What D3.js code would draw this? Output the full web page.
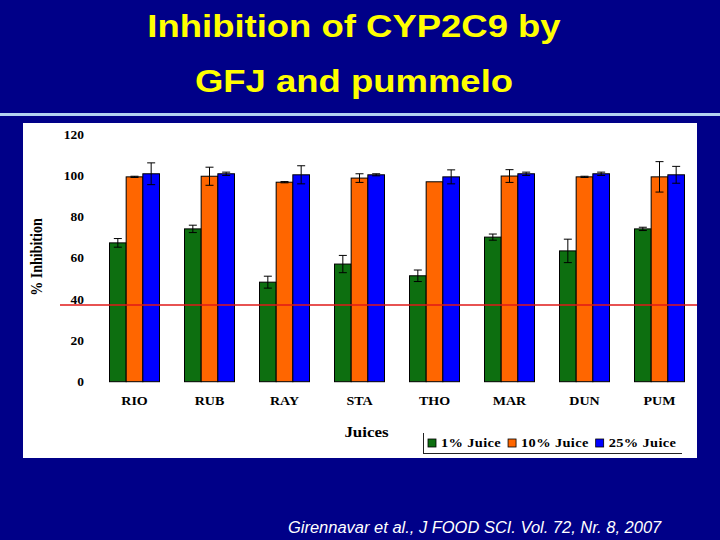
<!DOCTYPE html>
<html>
<head>
<meta charset="utf-8">
<script src="https://cdn.jsdelivr.net/npm/d3@7"></script>
<style>
  html, body { margin: 0; padding: 0; background: #000088; }
  svg { display: block; }
</style>
</head>
<body>
<svg id="chart" width="720" height="540"></svg>
<script>
// ---- data ----
const categories = ["RIO", "RUB", "RAY", "STA", "THO", "MAR", "DUN", "PUM"];
const seriesNames = ["1% Juice", "10% Juice", "25% Juice"];
const juice1  = [67.5, 74.3, 48.4, 57.2, 51.5, 70.3, 63.6, 74.3];
const juice10 = [99.6, 99.9, 97.0, 99.0, 97.2, 100.0, 99.6, 99.6];
const juice25 = [101.1, 101.1, 100.6, 100.6, 99.6, 101.1, 101.1, 100.6];
const err1  = [2.1, 1.8, 2.9, 4.2, 2.8, 1.5, 5.7, 0.8];
const err10 = [0.3, 4.4, 0.3, 2.1, 0.0, 3.1, 0.3, 7.4];
const err25 = [5.3, 0.8, 4.4, 0.5, 3.4, 0.8, 0.8, 4.1];
const yTicks = [0, 20, 40, 60, 80, 100, 120];
const refValue = 37.3;
const titleLines = ["Inhibition of CYP2C9 by", "GFJ and pummelo"];
const citation = "Girennavar et al., J FOOD SCI. Vol. 72, Nr. 8, 2007";

const colors = ["#0d6f10", "#ff6600", "#0000ff"];
const seriesValues = [juice1, juice10, juice25];
const seriesErrors = [err1, err10, err25];

const svg = d3.select("#chart");
const SX = 1.17; // horizontal stretch of the slide text

// background
svg.append("rect").attr("width", 720).attr("height", 540).attr("fill", "#000088");

// title
const title = svg.append("g");
titleLines.forEach((t, i) => {
  title.append("text")
    .attr("transform", `translate(354,${37 + i * 55}) scale(1.14,1)`)
    .attr("text-anchor", "middle")
    .attr("font-family", "Liberation Sans, Arial, sans-serif")
    .attr("font-weight", "bold")
    .attr("font-size", 32)
    .attr("fill", "#ffff00")
    .text(t);
});

// separator line
svg.append("rect").attr("x", 0).attr("y", 113).attr("width", 720).attr("height", 3).attr("fill", "#b4d2f0");

// white chart panel
svg.append("rect").attr("x", 23).attr("y", 123).attr("width", 674).attr("height", 335).attr("fill", "#ffffff");

// scales
const x0 = d3.scaleBand().domain(categories).range([97, 697]).paddingInner(1 / 3).paddingOuter(1 / 6);
const x1 = d3.scaleBand().domain(seriesNames).range([0, x0.bandwidth()]);
const y = d3.scaleLinear().domain([0, 120]).range([381.7, 134.9]);

const serif = "Liberation Serif, 'Times New Roman', serif";

// y axis
const yAxis = svg.append("g")
  .attr("transform", "translate(87,0)")
  .call(d3.axisLeft(y).tickValues(yTicks).tickSize(0).tickPadding(3).tickFormat(d3.format("d")));
yAxis.select(".domain").remove();
yAxis.selectAll("text")
  .attr("font-family", serif).attr("font-weight", "bold").attr("font-size", 11.5)
  .attr("fill", "#000")
  .attr("x", -3 / SX)
  .attr("transform", `scale(${SX},1)`);

// x axis
const xAxis = svg.append("g")
  .attr("transform", "translate(0,381.7)")
  .call(d3.axisBottom(x0).tickSize(0).tickPadding(15));
xAxis.select(".domain").remove();
xAxis.selectAll("text")
  .attr("font-family", serif).attr("font-weight", "bold").attr("font-size", 12)
  .attr("fill", "#000")
  .attr("transform", `scale(${SX},1)`);

// bars
const flat = [];
categories.forEach((c, i) => {
  seriesNames.forEach((s, j) => {
    flat.push({ cat: c, ser: s, value: seriesValues[j][i], err: seriesErrors[j][i], color: colors[j] });
  });
});

const bars = svg.append("g");
bars.selectAll("rect").data(flat).join("rect")
  .attr("x", d => x0(d.cat) + x1(d.ser))
  .attr("y", d => y(d.value))
  .attr("width", x1.bandwidth())
  .attr("height", d => y(0) - y(d.value))
  .attr("fill", d => d.color)
  .attr("stroke", "#000")
  .attr("stroke-width", 1);

// error bars
const eb = svg.append("g").attr("stroke", "#000").attr("stroke-width", 1).attr("fill", "none");
flat.filter(d => d.err > 0).forEach(d => {
  const cx = x0(d.cat) + x1(d.ser) + x1.bandwidth() / 2;
  const yt = y(d.value + d.err), yb = y(d.value - d.err);
  eb.append("line").attr("x1", cx).attr("x2", cx).attr("y1", yt).attr("y2", yb);
  eb.append("line").attr("x1", cx - 4).attr("x2", cx + 4).attr("y1", yt).attr("y2", yt);
  eb.append("line").attr("x1", cx - 4).attr("x2", cx + 4).attr("y1", yb).attr("y2", yb);
});

// reference line
svg.append("line")
  .attr("x1", 60).attr("x2", 697)
  .attr("y1", y(refValue)).attr("y2", y(refValue))
  .attr("stroke", "#e01818").attr("stroke-width", 1.3);

// y axis title
svg.append("text")
  .attr("transform", "translate(42,257) rotate(-90) scale(1,1.15)")
  .attr("text-anchor", "middle")
  .attr("font-family", serif).attr("font-weight", "bold").attr("font-size", 14)
  .attr("fill", "#000")
  .text("% Inhibition");

// x axis title
svg.append("text")
  .attr("transform", `translate(366.5,437.3) scale(${SX},1)`)
  .attr("text-anchor", "middle")
  .attr("font-family", serif).attr("font-weight", "bold").attr("font-size", 14.5)
  .attr("fill", "#000")
  .text("Juices");

// legend
const lg = svg.append("g");
lg.append("line").attr("x1", 423.5).attr("x2", 423.5).attr("y1", 433).attr("y2", 453).attr("stroke", "#222");
lg.append("line").attr("x1", 423).attr("x2", 682).attr("y1", 453.5).attr("y2", 453.5).attr("stroke", "#222");
let cursor = 428;
seriesNames.forEach((s, j) => {
  lg.append("rect").attr("x", cursor).attr("y", 439).attr("width", 8).attr("height", 8)
    .attr("fill", colors[j]).attr("stroke", "#000").attr("stroke-width", 0.8);
  const t = lg.append("text")
    .attr("transform", `translate(${cursor + 13},446.7) scale(1.2,1)`)
    .attr("font-family", serif).attr("font-weight", "bold").attr("font-size", 12)
    .attr("letter-spacing", 0.3)
    .attr("fill", "#000")
    .text(s);
  cursor += 13 + t.node().getComputedTextLength() * 1.2 + 7;
});

// citation
svg.append("text")
  .attr("transform", "translate(288,533) scale(1.03,1)")
  .attr("font-family", "Liberation Sans, Arial, sans-serif")
  .attr("font-style", "italic")
  .attr("font-size", 16)
  .attr("fill", "#ffffff")
  .text(citation);
</script>
</body>
</html>
